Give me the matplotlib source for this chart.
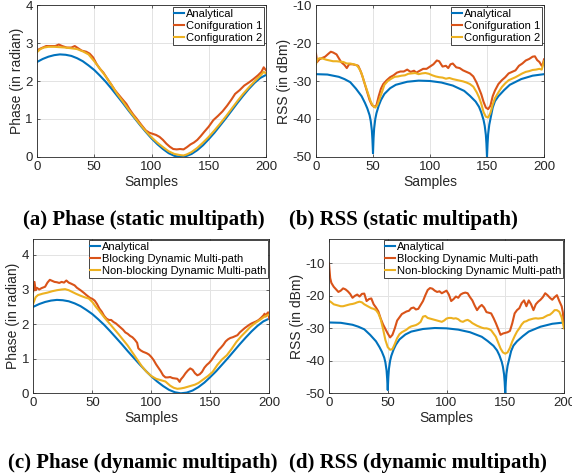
import matplotlib
matplotlib.use("Agg")
import matplotlib.pyplot as plt

# ---------------- data ----------------
# (a) Phase, static multipath
phase_x = list(range(0, 201, 5))
phase_analytical = [2.50, 2.58, 2.64, 2.68, 2.70, 2.69, 2.66, 2.60, 2.52, 2.41, 2.29, 2.14, 1.98, 1.80,
                    1.61, 1.42, 1.22, 1.03, 0.84, 0.66, 0.49, 0.34, 0.21, 0.10, 0.03, 0.00, 0.02, 0.08,
                    0.18, 0.31, 0.47, 0.64, 0.83, 1.02, 1.22, 1.42, 1.61, 1.79, 1.95, 2.08, 2.16]

a_cfg1_x = [0, 2, 5, 8, 12, 16, 19, 22, 26, 30, 33, 36, 39, 43, 46, 49, 52, 55, 58, 61, 65, 68, 71, 74,
            78, 81, 84, 87, 91, 95, 98, 101, 104, 107, 110, 113, 116, 119, 122, 125, 128, 131, 134, 137,
            140, 143, 146, 150, 154, 158, 162, 166, 170, 173, 177, 181, 185, 189, 193, 196, 198, 200]
a_cfg1_y = [2.80, 2.84, 2.88, 2.92, 2.92, 2.92, 2.96, 2.92, 2.88, 2.88, 2.92, 2.86, 2.80, 2.77, 2.72,
            2.62, 2.45, 2.32, 2.22, 2.08, 1.90, 1.76, 1.65, 1.54, 1.40, 1.25, 1.12, 1.01, 0.85, 0.70,
            0.64, 0.61, 0.58, 0.53, 0.45, 0.35, 0.27, 0.21, 0.20, 0.21, 0.20, 0.26, 0.33, 0.38, 0.45,
            0.55, 0.66, 0.80, 0.97, 1.08, 1.20, 1.35, 1.52, 1.66, 1.76, 1.88, 1.96, 2.05, 2.15, 2.24,
            2.36, 2.28]

a_cfg2_x = [0, 3, 6, 10, 15, 20, 25, 30, 35, 40, 45, 50, 55, 60, 65, 70, 75, 80, 85, 90, 95, 100, 105,
            110, 115, 120, 125, 128, 131, 135, 140, 145, 150, 155, 160, 165, 170, 175, 180, 185, 190,
            195, 198, 200]
a_cfg2_y = [2.76, 2.84, 2.88, 2.90, 2.90, 2.89, 2.88, 2.86, 2.84, 2.78, 2.70, 2.52, 2.32, 2.12, 1.90,
            1.66, 1.46, 1.25, 1.05, 0.86, 0.68, 0.52, 0.38, 0.26, 0.15, 0.08, 0.05, 0.04, 0.07, 0.13,
            0.24, 0.38, 0.53, 0.70, 0.88, 1.07, 1.27, 1.47, 1.66, 1.83, 1.99, 2.14, 2.24, 2.20]

# (b) RSS, static multipath
rss_x = [0, 10, 20, 25, 30, 35, 40, 43, 45, 47, 48, 49, 49.5, 50, 50.5, 51, 52, 53, 55, 57, 60, 65, 70,
         80, 90, 100, 110, 120, 130, 135, 140, 143, 145, 147, 148, 149, 149.5, 150, 150.5, 151, 152,
         153, 155, 157, 160, 165, 170, 180, 190, 200]
rss_analytical = [-28.2, -28.3, -28.9, -29.5, -30.3, -32.0, -34.0, -35.8, -37.2, -39.0, -40.5, -43.0,
                  -45.5, -49.0, -45.0, -42.5, -40.0, -38.5, -36.5, -35.0, -33.4, -31.9, -31.0, -30.2,
                  -29.9, -30.0, -30.4, -31.2, -32.6, -33.9, -35.4, -36.8, -38.3, -40.3, -41.8, -44.2,
                  -46.5, -50.0, -46.5, -44.0, -41.5, -40.0, -37.0, -35.3, -34.0, -32.4, -31.0, -29.5,
                  -28.6, -28.2]

b_cfg1_x = [0, 1, 3, 5, 8, 11, 13, 15, 18, 20, 22, 25, 27, 29, 32, 35, 37, 39, 41, 43, 45, 47, 49, 51,
            53, 55, 57, 59, 62, 65, 68, 71, 74, 77, 80, 83, 86, 88, 91, 94, 97, 100, 103, 106, 108, 111,
            114, 116, 118, 120, 123, 126, 129, 132, 135, 138, 141, 143, 145, 147, 149, 151, 153, 155,
            157, 160, 163, 166, 169, 172, 175, 178, 181, 184, 187, 190, 192, 194, 196, 198, 199, 200]
b_cfg1_y = [-22.8, -25.0, -24.3, -24.0, -23.6, -22.8, -22.3, -22.5, -23.0, -24.0, -25.0, -25.8, -26.6,
            -25.6, -25.6, -25.8, -26.0, -27.3, -29.0, -31.0, -33.0, -35.0, -36.3, -36.8, -36.4, -34.0,
            -32.0, -30.8, -29.8, -29.0, -28.5, -27.8, -27.5, -27.5, -27.0, -27.6, -27.3, -27.8, -27.3,
            -26.8, -26.8, -26.2, -25.6, -24.6, -24.8, -26.2, -26.0, -26.6, -25.6, -25.4, -26.4, -26.6,
            -27.2, -27.6, -28.0, -28.8, -30.5, -32.0, -33.5, -35.5, -37.0, -37.4, -36.5, -34.0, -32.5,
            -30.8, -29.8, -29.0, -28.0, -27.6, -27.2, -26.0, -25.4, -24.6, -24.2, -23.6, -23.5, -24.5,
            -25.0, -26.0, -25.5, -24.3]

b_cfg2_x = [0, 1, 3, 6, 9, 12, 15, 18, 21, 24, 27, 30, 33, 36, 38, 40, 42, 44, 46, 48, 50, 52, 54, 56,
            58, 60, 63, 66, 69, 72, 75, 78, 81, 84, 87, 90, 93, 96, 99, 102, 105, 108, 111, 114, 117,
            120, 123, 126, 129, 132, 135, 138, 141, 143, 145, 147, 149, 151, 153, 155, 157, 160, 163,
            166, 169, 172, 175, 178, 181, 184, 187, 190, 193, 196, 198, 200]
b_cfg2_y = [-25.6, -24.4, -24.0, -24.1, -24.4, -24.6, -24.8, -24.8, -24.9, -25.0, -25.4, -25.4, -25.6,
            -25.9, -26.8, -28.0, -30.0, -31.8, -33.6, -35.4, -36.6, -37.0, -36.2, -34.5, -32.8, -31.0,
            -30.0, -29.4, -28.9, -28.8, -28.6, -28.5, -28.1, -28.0, -27.9, -28.2, -28.0, -27.9, -28.1,
            -28.5, -28.8, -29.0, -29.1, -29.4, -29.2, -29.5, -29.7, -29.9, -30.1, -30.4, -30.8, -31.5,
            -33.0, -34.3, -36.0, -38.2, -39.4, -39.6, -38.4, -36.2, -34.5, -33.0, -31.6, -30.6, -29.8,
            -29.4, -29.0, -28.5, -28.0, -27.6, -27.4, -27.1, -27.0, -26.8, -27.0, -24.8]

# (c) Phase, dynamic multipath
c_block_x = [0, 1, 2, 3, 5, 7, 10, 12, 14, 16, 18, 20, 22, 24, 26, 28, 30, 32, 35, 37, 40, 43, 45, 48,
             50, 52, 54, 56, 58, 60, 62, 64, 66, 68, 70, 72, 74, 76, 78, 80, 82, 84, 86, 88, 89, 91, 93,
             96, 98, 100, 102, 104, 106, 108, 110, 112, 114, 116, 118, 120, 122, 123, 124, 125, 127,
             129, 131, 133, 135, 137, 139, 141, 143, 145, 147, 149, 151, 153, 155, 157, 159, 161, 163,
             165, 167, 169, 171, 173, 175, 177, 179, 181, 183, 185, 187, 189, 191, 193, 195, 196, 197,
             198, 199, 200]
c_block_y = [2.95, 3.22, 2.98, 3.05, 3.00, 3.04, 3.08, 3.20, 3.28, 3.25, 3.22, 3.21, 3.19, 3.22, 3.20,
             3.26, 3.20, 3.17, 3.12, 3.05, 2.98, 2.90, 2.84, 2.76, 2.73, 2.68, 2.58, 2.45, 2.36, 2.24,
             2.16, 2.12, 2.12, 2.06, 2.02, 1.96, 1.90, 1.84, 1.76, 1.72, 1.66, 1.62, 1.55, 1.46, 1.30,
             1.24, 1.20, 1.16, 1.12, 1.05, 0.96, 0.84, 0.74, 0.64, 0.52, 0.46, 0.46, 0.47, 0.44, 0.43,
             0.42, 0.38, 0.33, 0.40, 0.48, 0.58, 0.66, 0.72, 0.68, 0.58, 0.52, 0.55, 0.62, 0.74, 0.82,
             0.88, 0.96, 1.06, 1.16, 1.25, 1.32, 1.40, 1.50, 1.56, 1.60, 1.62, 1.65, 1.68, 1.76, 1.82,
             1.88, 1.93, 1.98, 2.02, 2.05, 2.08, 2.12, 2.18, 2.25, 2.30, 2.22, 2.30, 2.34, 2.15]

c_nonblock_x = [0, 2, 4, 8, 12, 16, 20, 24, 27, 30, 33, 36, 40, 44, 47, 50, 53, 56, 60, 64, 68, 72,
                76, 80, 84, 88, 92, 96, 100, 104, 108, 112, 116, 119, 122, 125, 128, 131, 134, 137,
                140, 144, 148, 152, 156, 160, 164, 168, 172, 176, 180, 184, 188, 192, 196, 200]
c_nonblock_y = [2.60, 2.78, 2.84, 2.88, 2.91, 2.95, 2.98, 3.00, 3.01, 2.98, 2.93, 2.88, 2.82, 2.77,
                2.74, 2.64, 2.50, 2.38, 2.20, 2.04, 1.88, 1.72, 1.55, 1.38, 1.18, 0.98, 0.78, 0.62,
                0.50, 0.42, 0.38, 0.34, 0.22, 0.16, 0.13, 0.14, 0.16, 0.19, 0.22, 0.25, 0.30, 0.40,
                0.50, 0.62, 0.82, 0.98, 1.10, 1.28, 1.48, 1.64, 1.78, 1.92, 2.03, 2.12, 2.22, 2.28]

# (d) RSS, dynamic multipath
d_block_x = [0, 1, 2] + list(range(4, 199, 2)) + [199, 200]
d_block_y = [-10.0, -14.5, -16.0, -17.2, -18.0, -18.8, -18.4, -17.7, -18.0, -18.6, -19.4, -20.6,
             -20.0, -19.6, -20.2, -19.4, -19.3, -21.6, -21.0, -20.8, -22.6, -23.6, -24.8, -27.0,
             -28.8, -30.2, -31.6, -32.8, -32.0, -30.0, -27.6, -26.6, -25.6, -25.2, -24.8, -24.6,
             -23.8, -23.6, -24.2, -24.0, -22.8, -21.6, -19.8, -18.2, -17.6, -17.8, -18.4, -18.8,
             -18.6, -19.2, -18.8, -18.4, -19.6, -21.6, -21.0, -20.2, -20.6, -19.6, -19.2, -19.0,
             -19.2, -20.4, -21.4, -23.0, -24.4, -23.4, -22.8, -23.6, -25.0, -25.2, -25.4, -26.8,
             -28.4, -30.2, -32.0, -31.6, -31.4, -31.2, -30.8, -28.4, -25.4, -24.4, -23.8, -22.2,
             -21.4, -23.2, -21.4, -22.6, -24.4, -22.6, -21.8, -21.2, -20.4, -19.2, -19.8, -20.6,
             -21.2, -20.4, -19.8, -21.6, -23.2, -25.0, -29.0]

d_nonblock_x = list(range(0, 201, 2))
d_nonblock_y = [-21.5, -22.0, -22.6, -22.8, -23.0, -23.2, -23.2, -23.0, -22.8, -22.6, -22.5, -22.3,
                -22.0, -21.8, -22.0, -22.6, -23.0, -23.4, -23.8, -24.0, -24.4, -25.4, -27.2, -30.2,
                -33.6, -35.8, -36.6, -36.4, -34.8, -33.0, -31.8, -31.2, -30.8, -30.4, -29.8, -29.4,
                -29.2, -29.0, -28.6, -28.0, -26.4, -26.2, -26.8, -27.0, -27.2, -27.4, -27.6, -27.8,
                -28.0, -27.6, -27.0, -26.8, -26.8, -27.0, -26.9, -27.2, -27.8, -28.0, -27.6, -27.4,
                -27.8, -28.4, -28.8, -29.2, -29.5, -29.8, -30.0, -30.0, -30.2, -30.6, -31.6, -32.6,
                -34.4, -36.2, -37.4, -37.8, -37.4, -36.0, -34.0, -32.4, -31.0, -30.0, -28.8, -28.0,
                -27.8, -27.4, -27.2, -27.0, -26.9, -27.0, -26.9, -26.8, -26.4, -26.0, -25.8, -25.2,
                -24.4, -24.4, -24.9, -26.6, -30.0]

x_ticks = [0, 50, 100, 150, 200]
labels_static = ["Analytical", "Conifguration 1", "Configuration 2"]
labels_dynamic = ["Analytical", "Blocking Dynamic Multi-path", "Non-blocking Dynamic Multi-path"]
captions = ["(a) Phase (static multipath)", "(b) RSS (static multipath)",
            "(c) Phase (dynamic multipath)", "(d) RSS (dynamic multipath)"]

# ---------------- style ----------------
BLUE, ORANGE, YELLOW = "#0072BD", "#D95319", "#EDB120"
DARK = "#262626"
plt.rcParams["font.family"] = ["Liberation Sans", "DejaVu Sans"]
plt.rcParams["axes.unicode_minus"] = False

W, H = 572, 476
fig = plt.figure(figsize=(W / 100, H / 100), dpi=100)


def make_ax(l, r, t, b):
    return fig.add_axes([l / W, 1 - b / H, (r - l) / W, (b - t) / H])


def style(ax, ylim, yticks, ylabel):
    ax.set_xlim(0, 200)
    ax.set_ylim(*ylim)
    ax.set_xticks(x_ticks)
    ax.set_yticks(yticks)
    ax.grid(True, color="#e3e3e3", linewidth=0.7)
    ax.set_axisbelow(True)
    for s in ax.spines.values():
        s.set_color(DARK)
        s.set_linewidth(0.6)
    ax.tick_params(direction="in", length=2.5, width=0.5, colors=DARK, labelsize=9.5,
                   top=True, right=True, pad=3)
    ax.set_xlabel("Samples", fontsize=10, color=DARK, labelpad=1)
    ax.set_ylabel(ylabel, fontsize=10, color=DARK, labelpad=1)


def legend(ax, labels, pad):
    leg = ax.legend(labels, loc="upper right", fontsize=8, frameon=True, fancybox=False,
                    framealpha=1, edgecolor=DARK, borderpad=0.15, handlelength=0.85,
                    handletextpad=0.2, labelspacing=0.2, borderaxespad=pad)
    leg.get_frame().set_linewidth(0.6)
    for t in leg.get_texts():
        t.set_color("black")


LW = 1.5

ax_a = make_ax(37, 266, 5, 157)
ax_a.plot(phase_x, phase_analytical, color=BLUE, lw=LW)
ax_a.plot(a_cfg1_x, a_cfg1_y, color=ORANGE, lw=LW)
ax_a.plot(a_cfg2_x, a_cfg2_y, color=YELLOW, lw=LW)
style(ax_a, (0, 4), [0, 1, 2, 3, 4], "Phase (in radian)")
legend(ax_a, labels_static, 0.2)

ax_b = make_ax(316, 544, 5, 157)
ax_b.plot(rss_x, rss_analytical, color=BLUE, lw=LW)
ax_b.plot(b_cfg1_x, b_cfg1_y, color=ORANGE, lw=LW)
ax_b.plot(b_cfg2_x, b_cfg2_y, color=YELLOW, lw=LW)
style(ax_b, (-50, -10), [-50, -40, -30, -20, -10], "RSS (in dBm)")
legend(ax_b, labels_static, 0.2)

ax_c = make_ax(33.3, 269.3, 239, 393.3)
ax_c.plot(phase_x, phase_analytical, color=BLUE, lw=LW)
ax_c.plot(c_block_x, c_block_y, color=ORANGE, lw=LW)
ax_c.plot(c_nonblock_x, c_nonblock_y, color=YELLOW, lw=LW)
style(ax_c, (0, 4.46), [0, 1, 2, 3, 4], "Phase (in radian)")
legend(ax_c, labels_dynamic, 0.1)

ax_d = make_ax(329, 564, 239, 393.3)
ax_d.plot(rss_x, rss_analytical, color=BLUE, lw=LW)
ax_d.plot(d_block_x, d_block_y, color=ORANGE, lw=LW)
ax_d.plot(d_nonblock_x, d_nonblock_y, color=YELLOW, lw=LW)
style(ax_d, (-50, -2.5), [-50, -40, -30, -20, -10], "RSS (in dBm)")
legend(ax_d, labels_dynamic, 0.1)

cap_kw = dict(fontsize=15, fontweight="bold", family=["Liberation Serif", "DejaVu Serif"],
              color="black", va="center")
fig.text(144 / W, 1 - 220 / H, captions[0], ha="center", **cap_kw)
fig.text(289 / W, 1 - 220 / H, captions[1], ha="left", **cap_kw)
fig.text(143 / W, 1 - 463 / H, captions[2], ha="center", **cap_kw)
fig.text(289 / W, 1 - 463 / H, captions[3], ha="left", **cap_kw)

fig.savefig("out.png", dpi=100)
